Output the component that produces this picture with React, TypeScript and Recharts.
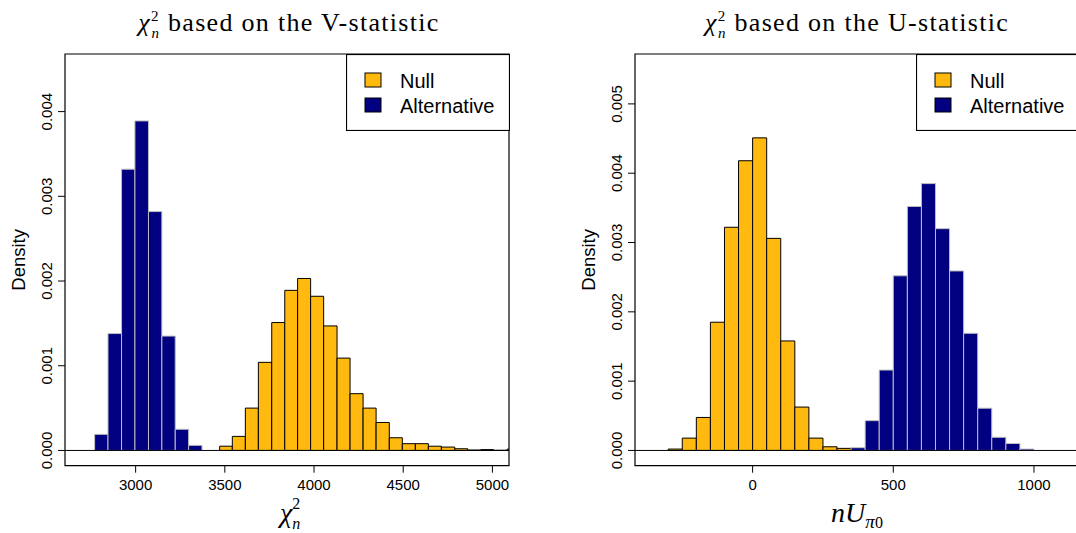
import React from "react";
import { ComposedChart, XAxis, YAxis, Line, ReferenceArea, ReferenceLine, Legend } from "recharts";

// V-statistic panel: bin edges and densities
const vNullBreaks = [3471, 3542, 3615, 3688, 3763, 3836, 3908, 3981, 4054, 4129, 4202, 4275, 4348, 4422, 4495, 4568, 4641, 4714, 4789, 4862, 4935, 5007, 5082, 5155];
const vNullDensity = [0.00005, 0.000166, 0.0005, 0.00104, 0.00151, 0.00189, 0.00203, 0.00182, 0.00147, 0.00109, 0.00067, 0.0005, 0.00033, 0.00015, 0.00008, 0.00008, 0.00005, 0.00004, 0.00002, 0.000005, 0.00001, 0.000002, 0.000015];
const vAltBreaks = [2770, 2845, 2921, 2996, 3072, 3147, 3222, 3297, 3372];
const vAltDensity = [0.00019, 0.00138, 0.00332, 0.00389, 0.00282, 0.00135, 0.00025, 0.00006];
const vXTicks = [3000, 3500, 4000, 4500, 5000];
const vYTicks = [0, 0.001, 0.002, 0.003, 0.004];

// U-statistic panel
const uNullBreaks = [-300, -250, -200, -150, -100, -50, 0, 50, 100, 150, 200, 250, 300, 350, 400, 450];
const uNullDensity = [0.00002, 0.000178, 0.000476, 0.00185, 0.00322, 0.00418, 0.00451, 0.00306, 0.00158, 0.000626, 0.000178, 0.000053, 0.00003, 0.000008, 0.000004];
const uAltBreaks = [350, 400, 450, 500, 550, 600, 650, 700, 750, 800, 850, 900, 950, 1000];
const uAltDensity = [0.00004, 0.00043, 0.00116, 0.00252, 0.00352, 0.00385, 0.0032, 0.00259, 0.00169, 0.00061, 0.00019, 0.0001, 0.00002];
const uXTicks = [0, 500, 1000];
const uYTicks = [0, 0.001, 0.002, 0.003, 0.004, 0.005];

const legendItems = [
  { name: "Null", fill: "#FFB90F", stroke: "#000" },
  { name: "Alternative", fill: "#000080", stroke: "#000" },
];

const NULL_FILL = "#FFB90F";
const ALT_FILL = "#000080";
const ALT_BORDER = "#bebebe";
const SANS = "Liberation Sans, Arial, sans-serif";
const SERIF = "Liberation Serif, Times New Roman, serif";

type Bin = { x0: number; x1: number; mid: number; d: number };

function toBins(breaks: number[], density: number[]): Bin[] {
  return density.map((d, i) => ({ x0: breaks[i], x1: breaks[i + 1], mid: (breaks[i] + breaks[i + 1]) / 2, d }));
}

function YTick({ x, y, payload }: any) {
  return (
    <text x={x - 6} y={y} transform={`rotate(-90, ${x - 6}, ${y})`} textAnchor="middle" fontSize={15} fontFamily={SANS} fill="#000">
      {payload.value.toFixed(3)}
    </text>
  );
}

function DensityLabel({ viewBox }: any) {
  const x = viewBox.x + viewBox.width - 40;
  const y = viewBox.y + viewBox.height / 2;
  return (
    <text x={x} y={y} transform={`rotate(-90, ${x}, ${y})`} textAnchor="middle" fontSize={18.5} fontFamily={SANS} fill="#000">
      Density
    </text>
  );
}

function ChiLabel({ viewBox }: any) {
  const cx = viewBox.x + viewBox.width / 2;
  const y = viewBox.y + 56;
  return (
    <text x={cx - 7} y={y} fontFamily={SERIF} fontSize={28} fill="#000">
      <tspan fontStyle="italic">χ</tspan>
      <tspan dy={-13} fontSize={16}>2</tspan>
      <tspan dx={-8} dy={20} fontSize={16} fontStyle="italic">n</tspan>
    </text>
  );
}

function ULabel({ viewBox }: any) {
  const cx = viewBox.x + viewBox.width / 2;
  const y = viewBox.y + 56;
  return (
    <text x={cx} y={y} textAnchor="middle" fontFamily={SERIF} fontSize={28} fill="#000">
      <tspan fontStyle="italic">nU</tspan>
      <tspan dy={6} fontSize={19} fontStyle="italic">π</tspan>
      <tspan fontSize={16}>0</tspan>
    </text>
  );
}

function LegendBox() {
  return (
    <svg width={164} height={77} style={{ display: "block" }}>
      <rect x={0.5} y={0.5} width={163} height={76} fill="#fff" stroke="#000" strokeWidth={1.2} />
      {legendItems.map((item, i) => (
        <g key={item.name}>
          <rect x={19} y={19 + i * 25} width={16} height={14} fill={item.fill} stroke={item.stroke} strokeWidth={1} />
          <text x={54} y={33.5 + i * 25} fontSize={20} fontFamily={SANS} fill="#000">
            {item.name}
          </text>
        </g>
      ))}
    </svg>
  );
}

type PanelProps = {
  left: number;
  xDomain: [number, number];
  yDomain: [number, number];
  xTicks: number[];
  yTicks: number[];
  nullBins: Bin[];
  altBins: Bin[];
  xLabel: (p: any) => React.ReactNode;
};

function Panel({ left, xDomain, yDomain, xTicks, yTicks, nullBins, altBins, xLabel }: PanelProps) {
  return (
    <div style={{ position: "absolute", left, top: 0 }}>
      <ComposedChart width={538} height={533} data={nullBins} margin={{ top: 54, right: 29, bottom: 0, left: 0 }}>
        <XAxis
          dataKey="mid"
          type="number"
          domain={xDomain}
          allowDataOverflow
          ticks={xTicks}
          interval={0}
          height={67.3}
          axisLine={false}
          tickLine={{ stroke: "#000" }}
          tickSize={7}
          tickMargin={6.6}
          tick={{ fontSize: 15, fill: "#000", fontFamily: SANS }}
          label={{ content: xLabel }}
        />
        <YAxis
          type="number"
          domain={yDomain}
          allowDataOverflow
          ticks={yTicks}
          interval={0}
          width={65}
          axisLine={false}
          tickLine={{ stroke: "#000" }}
          tickSize={7}
          tickMargin={0}
          tick={<YTick />}
          label={{ content: DensityLabel }}
        />
        <Legend layout="vertical" align="center" verticalAlign="middle" wrapperStyle={{ left: 346, top: 54, width: 164, height: 77 }} content={() => <LegendBox />} />
        {nullBins.map((b, i) => (
          <ReferenceArea key={`n${i}`} x1={b.x0} x2={b.x1} y1={0} y2={b.d} fill={NULL_FILL} fillOpacity={1} stroke="#000" strokeWidth={1} ifOverflow="hidden" />
        ))}
        {altBins.map((b, i) => (
          <ReferenceArea key={`a${i}`} x1={b.x0} x2={b.x1} y1={0} y2={b.d} fill={ALT_FILL} fillOpacity={1} stroke={ALT_BORDER} strokeWidth={1} ifOverflow="hidden" />
        ))}
        <ReferenceLine y={0} stroke="#000" strokeWidth={1} ifOverflow="hidden" />
        <ReferenceArea x1={xDomain[0]} x2={xDomain[1]} y1={yDomain[0]} y2={yDomain[1]} fill="none" stroke="#000" strokeWidth={1.2} ifOverflow="visible" />
        <Line dataKey="d" stroke="none" dot={false} activeDot={false} legendType="none" isAnimationActive={false} />
      </ComposedChart>
    </div>
  );
}

function Title({ cx, letter }: { cx: number; letter: string }) {
  return (
    <text x={cx} y={31} textAnchor="middle" fontFamily={SERIF} fontSize={26} letterSpacing={1.3} fill="#000">
      <tspan fontStyle="italic">χ</tspan>
      <tspan dy={-10} fontSize={15}>2</tspan>
      <tspan dx={-8.5} dy={17} fontSize={15} fontStyle="italic">n</tspan>
      <tspan dy={-7}>{` based on the ${letter}-statistic`}</tspan>
    </text>
  );
}

export default function App() {
  return (
    <div style={{ position: "absolute", left: 0, top: 0, width: 1076, height: 533, overflow: "hidden", background: "#fff" }}>
      <Panel
        left={0}
        xDomain={[2604, 5093]}
        yDomain={[-0.00018, 0.00468]}
        xTicks={vXTicks}
        yTicks={vYTicks}
        nullBins={toBins(vNullBreaks, vNullDensity)}
        altBins={toBins(vAltBreaks, vAltDensity)}
        xLabel={ChiLabel}
      />
      <Panel
        left={570.3}
        xDomain={[-418, 1160]}
        yDomain={[-0.00022, 0.00572]}
        xTicks={uXTicks}
        yTicks={uYTicks}
        nullBins={toBins(uNullBreaks, uNullDensity)}
        altBins={toBins(uAltBreaks, uAltDensity)}
        xLabel={ULabel}
      />
      <svg width={1076} height={50} style={{ position: "absolute", left: 0, top: 0, pointerEvents: "none" }}>
        <Title cx={289} letter="V" />
        <Title cx={857} letter="U" />
      </svg>
    </div>
  );
}
